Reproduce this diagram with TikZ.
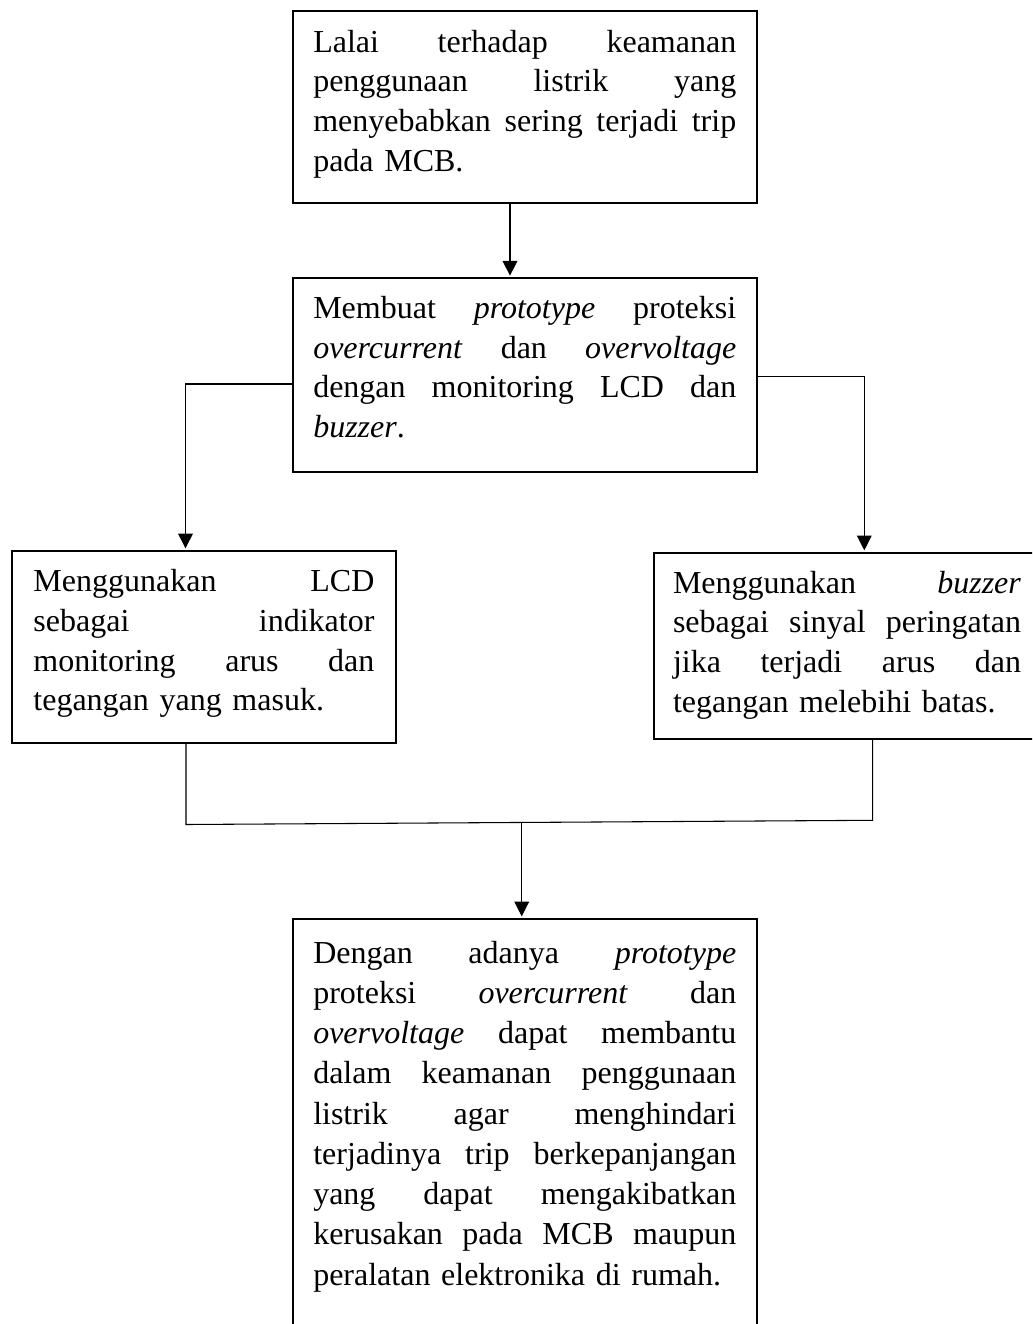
\documentclass[tikz,border=0pt]{standalone}
\usepackage{fontspec}
\setmainfont{Liberation Serif}
\usetikzlibrary{arrows.meta}
\newcommand{\jline}[1]{\hbox to\linewidth{#1}}
\newcommand{\lline}[1]{\hbox to\linewidth{#1\hfil}}
\begin{document}
\begin{tikzpicture}[x=0.75pt,y=-0.75pt,
  box/.style={draw, line width=1.5pt, rectangle, anchor=north west, outer sep=0pt,
    inner ysep=0pt, font=\fontsize{24pt}{29.775pt}\selectfont},
  conn/.style={draw, line width=0.8pt},
  arr/.style={conn, -{Triangle[width=11pt,length=11pt]}, shorten >=2pt}]
\useasboundingbox (0,0) rectangle (1032,1324);
\clip (0,0) rectangle (1032,1324);

\node[box, text width=317.25pt, inner xsep=15.56pt, text height=30.75pt, text depth=113.25pt] (top) at (292.5,11) {%
\jline{Lalai\hfill terhadap\hfill keamanan}
\jline{penggunaan\hfill listrik\hfill yang}
\jline{menyebabkan\hfill sering\hfill terjadi\hfill trip}
\lline{pada MCB.}};

\node[box, text width=317.25pt, inner xsep=15.56pt, text height=30pt, text depth=115pt] (mid) at (292.5,278.3) {%
\jline{Membuat\hfill \textit{prototype}\hfill proteksi}
\jline{\textit{overcurrent}\hfill dan\hfill \textit{overvoltage}}
\jline{dengan\hfill monitoring\hfill LCD\hfill dan}
\lline{\textit{buzzer}.}};

\node[box, text width=255.75pt, inner xsep=16.3pt, text height=30.5pt, text depth=113.5pt] (left) at (11.7,551) {%
\jline{Menggunakan\hfill LCD}
\jline{sebagai\hfill indikator}
\jline{monitoring\hfill arus\hfill dan}
\lline{tegangan yang masuk.}};

\node[box, text width=261pt, inner xsep=14.25pt, text height=30pt, text depth=109.5pt] (right) at (654,553) {%
\jline{Menggunakan\hfill \textit{buzzer}}
\jline{sebagai\hfill sinyal\hfill peringatan}
\jline{jika\hfill terjadi\hfill arus\hfill dan}
\lline{tegangan melebihi batas.}};

\node[box, text width=317.25pt, inner xsep=15.56pt, text height=33pt, text depth=315pt,
  font=\fontsize{24pt}{30.2pt}\selectfont] (bot) at (292.5,919) {%
\jline{Dengan\hfill adanya\hfill \textit{prototype}}
\jline{proteksi\hfill \textit{overcurrent}\hfill dan}
\jline{\textit{overvoltage}\hfill dapat\hfill membantu}
\jline{dalam\hfill keamanan\hfill penggunaan}
\jline{listrik\hfill agar\hfill menghindari}
\jline{terjadinya\hfill trip\hfill berkepanjangan}
\jline{yang\hfill dapat\hfill mengakibatkan}
\jline{kerusakan\hfill pada\hfill MCB\hfill maupun}
\lline{peralatan elektronika di rumah.}};

\coordinate (c1) at (510,0);
\coordinate (kL) at (185.5,384);
\coordinate (kR) at (864.3,376.7);
\coordinate (jL) at (186,824.5);
\coordinate (jM) at (521.7,822.7);
\coordinate (jR) at (872.7,820.3);

\draw[arr] (top.south -| c1) -- (mid.north -| c1);
\draw[arr] (kL -| mid.west) -- (kL) -- (left.north -| kL);
\draw[arr] (kR -| mid.east) -- (kR) -- (right.north -| kR);
\draw[conn] (left.south -| jL) -- (jL) -- (jR) -- (right.south -| jR);
\draw[arr] (jM) -- (bot.north -| jM);
\end{tikzpicture}
\end{document}
